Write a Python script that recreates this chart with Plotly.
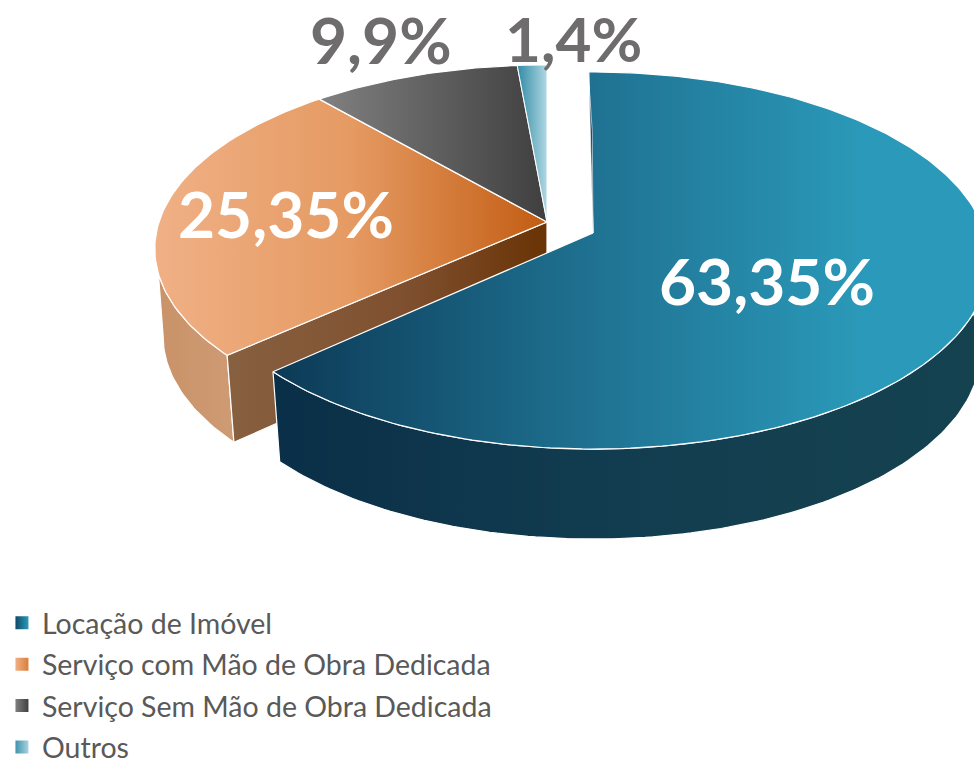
import math
import plotly.graph_objects as go

categories = ["Locação de Imóvel", "Serviço com Mão de Obra Dedicada", "Serviço Sem Mão de Obra Dedicada", "Outros"]
values = [63.35, 25.35, 9.9, 1.4]
value_labels = ["63,35%", "25,35%", "9,9%", "1,4%"]

W, H = 974, 761
K = 0.146          # perspective strength
DEPTH = 90
TAPER = 0.021


def rim(theta_deg, c, r=1.0):
    """Project a point of the tilted disc to the page; theta runs clockwise from 12 o'clock."""
    cx, cy, fx, fy = c
    t = math.radians(theta_deg)
    X, Y = r * math.sin(t), r * math.cos(t)
    d = 1 + K * Y
    return cx + X * fx / d, cy - Y * fy / d


def arc(a, b, c, step=1.0):
    n = max(2, int(abs(b - a) / step))
    return [rim(a + (b - a) * i / n, c) for i in range(n + 1)]


def lower(p, c, depth=DEPTH):
    return p[0] + (c[0] - p[0]) * TAPER, p[1] + depth


MAIN = (593, 233, 392, 184.5)
REST = (547, 222, 388, 180)

# slice angles come from the values
angles = [0]
for v in values:
    angles.append(angles[-1] + v * 3.6)
ROT = -0.7

fig = go.Figure()


def poly(points, stops, x0, x1, line="white", width=1.2):
    xs = [p[0] for p in points] + [points[0][0]]
    ys = [p[1] for p in points] + [points[0][1]]
    fig.add_trace(go.Scatter(
        x=xs, y=ys, mode="lines", fill="toself",
        fillgradient=dict(type="horizontal", start=x0, stop=x1, colorscale=stops),
        line=dict(color=line, width=width),
        hoverinfo="skip", showlegend=False,
    ))


a0, a1, a2, a3, a4 = angles

# orange: outer wall, cut face, top
wall_top = arc(a1, 254, REST)
wall_low = [lower(p, REST, 87) for p in arc(a1, 262, REST)]
poly(wall_top + list(reversed(wall_low)),
     [[0, "#c99268"], [1, "#cf9b74"]], 155, 235)
corner = rim(a1, REST)
apex = (REST[0], REST[1])
poly([apex, corner, lower(corner, REST, 87), (apex[0], apex[1] + 82)],
     [[0, "#87603f"], [0.55, "#7f5030"], [1, "#693305"]], 230, 547)
poly([apex] + arc(a1, a2, REST),
     [[0, "#f0b085"], [0.5, "#e59a62"], [1, "#c25c12"]], 158, 547)
# grey and light blue tops
poly([apex] + arc(a2, a3, REST),
     [[0, "#808080"], [1, "#3f3f3f"]], 322, 547)
poly([apex] + arc(a3, a4, REST),
     [[0, "#2f8aa6"], [1, "#b0d8e2"]], 517, 547, width=1)

# blue: outer wall, top, thin cut sliver
mwall = arc(ROT + 85, ROT + a1, MAIN)
poly(mwall + [lower(p, MAIN) for p in reversed(mwall)],
     [[0, "#0a2f48"], [0.5, "#123d50"], [1, "#15424f"]], 280, 974)
poly([(MAIN[0], MAIN[1])] + arc(ROT, ROT + a1, MAIN),
     [[0, "#0c3a56"], [0.45, "#1f7191"], [0.85, "#2b9aba"], [1, "#2b9aba"]], 275, 974, width=1.2)
poly([(MAIN[0], MAIN[1]), rim(ROT, MAIN, 0.9), rim(ROT + 0.5, MAIN, 0.6)],
     [[0, "#0a2f48"], [1, "#0a2f48"]], 585, 595, width=0.6)

# legend entries
legend_colors = [("#0e4a68", "#2b9aba"), ("#f0b085", "#d87f3c"), ("#808080", "#404040"), ("#3f93ac", "#a8d3de")]
for i, (name, (c0, c1)) in enumerate(zip(categories, legend_colors)):
    fig.add_trace(go.Scatter(
        x=[None], y=[None], mode="markers", name=name, legendgroup=str(i),
        marker=dict(symbol="square", size=13, color=c0, line=dict(width=0),
                    gradient=dict(type="horizontal", color=c1)),
    ))

# value labels
label_pos = [(767, 280), (286, 213), (381, 39), (573, 38)]
label_col = ["white", "white", "#6e6c6c", "#6e6c6c"]
label_size = [64, 64, 64, 62]
for text, (x, y), col, size in zip(value_labels, label_pos, label_col, label_size):
    fig.add_annotation(x=x, y=y, text=f"<b>{text}</b>", showarrow=False, xref="x", yref="y",
                       font=dict(family="Lato", size=size, color=col))

fig.update_layout(
    width=W, height=H, margin=dict(l=0, r=0, t=0, b=0, autoexpand=False),
    paper_bgcolor="white", plot_bgcolor="white",
    xaxis=dict(range=[0, W], visible=False, fixedrange=True),
    yaxis=dict(range=[H, 0], visible=False, fixedrange=True),
    legend=dict(x=0.002, y=0.2146, xanchor="left", yanchor="top",
                font=dict(family="Lato", size=28.5, color="#595959"),
                tracegroupgap=1.4, itemwidth=30, bgcolor="rgba(0,0,0,0)"),
)
fig.write_html("out.html", config={"displayModeBar": False},
               post_script="document.body.style.margin='0';document.documentElement.style.overflow='hidden';")
